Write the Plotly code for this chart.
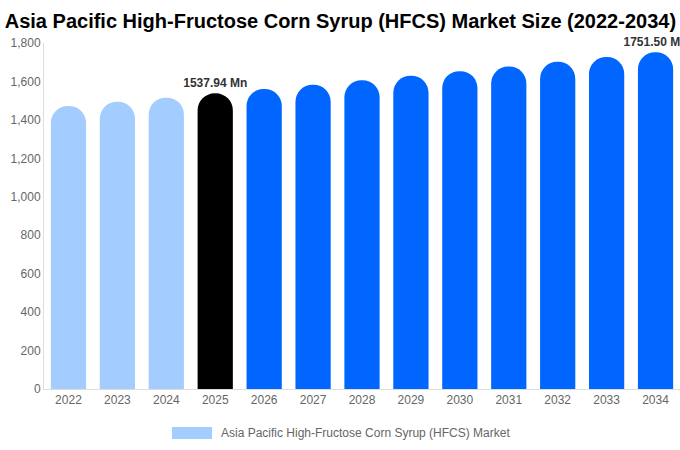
import plotly.graph_objects as go

years = ["2022", "2023", "2024", "2025", "2026", "2027", "2028", "2029", "2030", "2031", "2032", "2033", "2034"]
values = [1472.5, 1494.0, 1515.8, 1537.94, 1560.4, 1583.2, 1606.3, 1629.8, 1653.6, 1677.7, 1702.2, 1727.0, 1751.50]
labels = ["", "", "", "1537.94 Mn", "", "", "", "", "", "", "", "", "1751.50 Mn"]
colors = ["#a3cdff"] * 3 + ["#000000"] + ["#0066ff"] * 9
series_name = "Asia Pacific High-Fructose Corn Syrup (HFCS) Market"
title = "Asia Pacific High-Fructose Corn Syrup (HFCS) Market Size (2022-2034)"

fig = go.Figure()
fig.add_trace(go.Bar(
    x=years, y=values, name=series_name,
    marker=dict(color=colors, line=dict(width=0)),
    text=labels, textposition="outside", cliponaxis=False, constraintext="none",
    textfont=dict(family="Liberation Sans, Arial", size=12, color="#333333", weight="bold"),
    showlegend=False,
))

# manual legend
fig.add_shape(type="rect", xref="paper", yref="paper", x0=0.2013, x1=0.2642, y0=-0.1445, y1=-0.1098,
              fillcolor=colors[0], line=dict(width=0))
fig.add_annotation(xref="paper", yref="paper", x=0.2752, y=-0.1272, xanchor="left", yanchor="middle",
                   text=series_name, showarrow=False,
                   font=dict(family="Liberation Sans, Arial", size=12, color="#666666"))

fig.update_layout(
    width=680, height=450,
    margin=dict(l=44, r=0, t=43, b=61),
    paper_bgcolor="white", plot_bgcolor="white",
    barcornerradius="50%",
    bargap=0.28,
    font=dict(family="Liberation Sans, Arial", size=12, color="#666666"),
    title=dict(text="<b>" + title + "</b>", x=0.007, xanchor="left", xref="container",
               y=0.953, yanchor="middle", yref="container",
               font=dict(family="Liberation Sans, Arial", size=20, color="#000000")),
    xaxis=dict(type="category", showline=True, linecolor="#dddddd", linewidth=1, ticks="", showgrid=False,
               tickfont=dict(size=12, color="#666666")),
    yaxis=dict(range=[0, 1800], dtick=200, tickformat=",", showline=True, linecolor="#dddddd",
               linewidth=1, showgrid=False, zeroline=False, ticks="",
               tickfont=dict(size=12, color="#666666")),
    showlegend=False,
)

fig.write_html("out.html")
